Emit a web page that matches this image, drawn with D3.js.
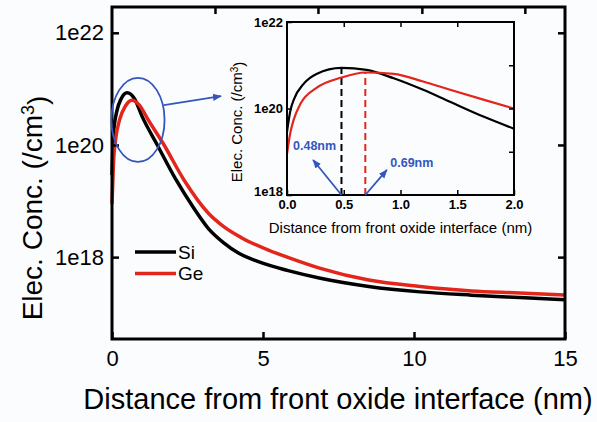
<!DOCTYPE html>
<html>
<head>
<meta charset="utf-8">
<script src="https://cdn.jsdelivr.net/npm/d3@7"></script>
<style>
  body { margin: 0; background: #fbfcfe; }
  text { font-family: "Liberation Sans", Arial, sans-serif; }
</style>
</head>
<body>
<script>
// distance (nm) and electron concentration (/cm3), main plot
const siMain = [[0, 2.9e19], [0.05, 1.6e20], [0.15, 3.8e20], [0.3, 6.6e20], [0.5, 8.5e20],
  [0.75, 6.6e20], [1.0, 3.2e20], [1.5, 1.0e20], [2.1, 2.5e19], [2.7, 7.6e18], [3.2, 3.2e18],
  [3.7, 1.8e18], [4.2, 1.17e18], [4.8, 8.5e17], [5.3, 6.9e17], [5.8, 5.8e17], [6.9, 4.2e17],
  [8.5, 3.0e17], [10.2, 2.4e17], [11.9, 2.1e17], [13.5, 1.9e17], [15, 1.74e17]]
const geMain = [[0, 8.9e18], [0.05, 5.0e19], [0.12, 1.26e20], [0.25, 2.8e20], [0.45, 5.0e20],
  [0.66, 6.3e20], [0.9, 5.2e20], [1.2, 2.8e20], [1.7, 1.05e20], [2.4, 2.3e19], [3.2, 6.0e18],
  [3.7, 3.5e18], [4.3, 2.2e18], [5.2, 1.32e18], [5.8, 1.0e18], [6.9, 6.3e17], [8.5, 3.9e17],
  [10.2, 3.0e17], [11.9, 2.5e17], [13.5, 2.3e17], [15, 2.1e17]]

// inset (first 2 nm)
const siInset = [[0, 2.9e19], [0.03, 9.0e19], [0.06, 1.6e20], [0.15, 3.8e20], [0.26, 6.3e20],
  [0.48, 8.7e20], [0.70, 7.8e20], [0.94, 5.0e20], [1.2, 2.7e20], [1.43, 1.45e20],
  [1.73, 6.5e19], [2.0, 3.4e19]]
const geInset = [[0, 8.9e18], [0.03, 2.8e19], [0.06, 5.6e19], [0.12, 1.3e20], [0.26, 3.0e20],
  [0.48, 5.2e20], [0.69, 6.8e20], [0.94, 6.3e20], [1.2, 4.2e20], [1.43, 2.75e20],
  [1.73, 1.6e20], [2.0, 1.0e20]]

const series = ['Si', 'Ge']
const colors = {Si: '#000000', Ge: '#e3261b'}
const peaks = [{name: 'Si', x: 0.48, label: '0.48nm'}, {name: 'Ge', x: 0.69, label: '0.69nm'}]

const xTicks = [0, 5, 10, 15]
const yTicks = [1e18, 1e20, 1e22]
const topTicks = [3.41, 6.82, 10.26, 13.67]
const insetXTicks = [0, 0.5, 1, 1.5, 2]
const insetYTicks = [1e18, 1e20, 1e22]
const insetMinorY = [1e19, 1e20, 1e21]

const blue = '#3556bd'

const W = 597, H = 422
const svg = d3.select('body').append('svg')
    .attr('width', W)
    .attr('height', H)

// main plot
const margin = {top: 7, right: 32, bottom: 83, left: 112}
const width = W - margin.left - margin.right,
    height = H - margin.top - margin.bottom

const x = d3.scaleLinear().domain([0, 15]).range([0, width])
const y = d3.scaleLog().domain([Math.pow(10, 16.54), Math.pow(10, 22.46)]).range([height, 0])

const g = svg.append('g')
    .attr('transform', 'translate(' + margin.left + ',' + margin.top + ')')

const line = d3.line()
    .x(d => x(d[0]))
    .y(d => y(d[1]))
    .curve(d3.curveMonotoneX)

const mainData = {Si: siMain, Ge: geMain}
series.forEach(s => {
  g.append('path')
      .datum(mainData[s])
      .attr('d', line)
      .attr('fill', 'none')
      .attr('stroke', colors[s])
      .attr('stroke-width', 3.5)
})

function styleAxis(sel, w) {
  sel.select('.domain').remove()
  sel.selectAll('line').attr('stroke', '#000').attr('stroke-width', w)
}

g.append('g')
    .attr('transform', 'translate(0,' + height + ')')
    .call(d3.axisBottom(x).tickValues(xTicks).tickSize(-7).tickPadding(11).tickFormat(d3.format('d')))
    .call(styleAxis, 2.5)
    .selectAll('text').style('font-size', '22px').attr('fill', '#000')

g.append('g')
    .call(d3.axisTop(x).tickValues(topTicks).tickSize(-7).tickFormat(''))
    .call(styleAxis, 2.5)

g.append('g')
    .call(d3.axisLeft(y).tickValues(yTicks).tickSize(-7).tickPadding(8)
      .tickFormat(d => '1e' + Math.round(Math.log10(d))))
    .call(styleAxis, 2.5)
    .selectAll('text').style('font-size', '22px').attr('fill', '#000')

g.append('g')
    .attr('transform', 'translate(' + width + ',0)')
    .call(d3.axisRight(y).tickValues(yTicks).tickSize(-7).tickFormat(''))
    .call(styleAxis, 2.5)

g.append('rect')
    .attr('width', width)
    .attr('height', height)
    .attr('fill', 'none')
    .attr('stroke', '#000')
    .attr('stroke-width', 3)

// legend
const legend = g.append('g')
series.forEach((s, i) => {
  const ly = 245 + i * 21.6
  legend.append('line')
      .attr('x1', 23).attr('x2', 64)
      .attr('y1', ly).attr('y2', ly)
      .attr('stroke', colors[s])
      .attr('stroke-width', 3.5)
  legend.append('text')
      .attr('x', 66).attr('y', ly)
      .attr('dy', '0.36em')
      .style('font-size', '19px')
      .text(s)
})

// callout ellipse + arrow
const ex = 0.86, ey = 2.8e20
g.append('ellipse')
    .attr('cx', x(ex))
    .attr('cy', y(ey))
    .attr('rx', x(ex + 0.88) - x(ex))
    .attr('ry', y(ey / Math.pow(10, 0.75)) - y(ey))
    .attr('fill', 'none')
    .attr('stroke', blue)
    .attr('stroke-width', 1.8)

svg.append('defs').append('marker')
    .attr('id', 'head')
    .attr('viewBox', '0 0 10 10')
    .attr('refX', 9).attr('refY', 5)
    .attr('markerWidth', 5).attr('markerHeight', 5)
    .attr('orient', 'auto')
    .append('path')
    .attr('d', 'M0,1 L10,5 L0,9 Z')
    .attr('fill', blue)

g.append('line')
    .attr('x1', x(1.72)).attr('y1', y(Math.pow(10, 20.71)))
    .attr('x2', x(3.61)).attr('y2', y(Math.pow(10, 20.87)))
    .attr('stroke', blue)
    .attr('stroke-width', 1.8)
    .attr('marker-end', 'url(#head)')

// axis titles
svg.append('text')
    .attr('x', 338)
    .attr('y', 409)
    .attr('text-anchor', 'middle')
    .style('font-size', '29px')
    .text('Distance from front oxide interface (nm)')

const yt = svg.append('text')
    .attr('transform', 'translate(42,' + 208 + ') rotate(-90)')
    .attr('text-anchor', 'middle')
    .style('font-size', '28px')
yt.append('tspan').text('Elec. Conc. (/cm')
yt.append('tspan').attr('dy', '-0.45em').style('font-size', '18px').text('3')
yt.append('tspan').attr('dy', '0.45em').text(')')

// inset
const im = {left: 287, top: 22, width: 227, height: 173}
const xi = d3.scaleLinear().domain([0, 2]).range([0, im.width])
const yi = d3.scaleLog().domain([1e18, 1e22]).range([im.height, 0])

const ig = svg.append('g')
    .attr('transform', 'translate(' + im.left + ',' + im.top + ')')

ig.append('rect')
    .attr('width', im.width)
    .attr('height', im.height)
    .attr('fill', '#fbfcfe')

const iline = d3.line()
    .x(d => xi(d[0]))
    .y(d => yi(d[1]))
    .curve(d3.curveMonotoneX)

const insetData = {Si: siInset, Ge: geInset}

// dashed peak markers
peaks.forEach(p => {
  const top = d3.max(insetData[p.name], d => d[1])
  ig.append('line')
      .attr('x1', xi(p.x)).attr('x2', xi(p.x))
      .attr('y1', yi(1e18)).attr('y2', yi(top))
      .attr('stroke', colors[p.name])
      .attr('stroke-width', 2)
      .attr('stroke-dasharray', '7,4')
})

series.forEach(s => {
  ig.append('path')
      .datum(insetData[s])
      .attr('d', iline)
      .attr('fill', 'none')
      .attr('stroke', colors[s])
      .attr('stroke-width', 2.2)
})

ig.append('g')
    .attr('transform', 'translate(0,' + im.height + ')')
    .call(d3.axisBottom(xi).tickValues(insetXTicks).tickSize(-5).tickPadding(5).tickFormat(d3.format('.1f')))
    .call(styleAxis, 1.5)
    .selectAll('text').style('font-size', '13px').style('font-weight', 'bold').attr('fill', '#000')

ig.append('g')
    .call(d3.axisTop(xi).tickValues([0.5, 1, 1.5]).tickSize(-5).tickFormat(''))
    .call(styleAxis, 1.5)

ig.append('g')
    .call(d3.axisLeft(yi).tickValues(insetYTicks).tickSize(-5).tickPadding(4)
      .tickFormat(d => '1e' + Math.round(Math.log10(d))))
    .call(styleAxis, 1.5)
    .selectAll('text')
    .style('font-size', '13px').style('font-weight', 'bold').attr('fill', '#000')
    .attr('dy', d => d === 1e18 ? '0.05em' : '0.32em')

ig.append('g')
    .attr('transform', 'translate(' + im.width + ',0)')
    .call(d3.axisRight(yi).tickValues(insetMinorY).tickSize(-5).tickFormat(''))
    .call(styleAxis, 1.5)

ig.append('rect')
    .attr('width', im.width)
    .attr('height', im.height)
    .attr('fill', 'none')
    .attr('stroke', '#000')
    .attr('stroke-width', 2)

// peak arrows and labels
const arrowEnds = [[0.23, Math.pow(10, 18.81)], [0.88, Math.pow(10, 18.58)]]
const labelPos = [[0.053, Math.pow(10, 19.04)], [0.91, Math.pow(10, 18.65)]]
peaks.forEach((p, i) => {
  ig.append('line')
      .attr('x1', xi(p.x)).attr('y1', yi(1e18))
      .attr('x2', xi(arrowEnds[i][0])).attr('y2', yi(arrowEnds[i][1]))
      .attr('stroke', blue)
      .attr('stroke-width', 1.8)
      .attr('marker-end', 'url(#head)')
  ig.append('text')
      .attr('x', xi(labelPos[i][0]))
      .attr('y', yi(labelPos[i][1]))
      .attr('fill', blue)
      .style('font-size', '12.5px')
      .style('font-weight', 'bold')
      .text(p.label)
})

ig.append('text')
    .attr('x', im.width / 2)
    .attr('y', im.height + 38)
    .attr('text-anchor', 'middle')
    .style('font-size', '15px')
    .text('Distance from front oxide interface (nm)')

const iyt = ig.append('text')
    .attr('transform', 'translate(-45,' + 100 + ') rotate(-90)')
    .attr('text-anchor', 'middle')
    .style('font-size', '15px')
iyt.append('tspan').text('Elec. Conc. (/cm')
iyt.append('tspan').attr('dy', '-0.45em').style('font-size', '10px').text('3')
iyt.append('tspan').attr('dy', '0.45em').text(')')
</script>
</body>
</html>
